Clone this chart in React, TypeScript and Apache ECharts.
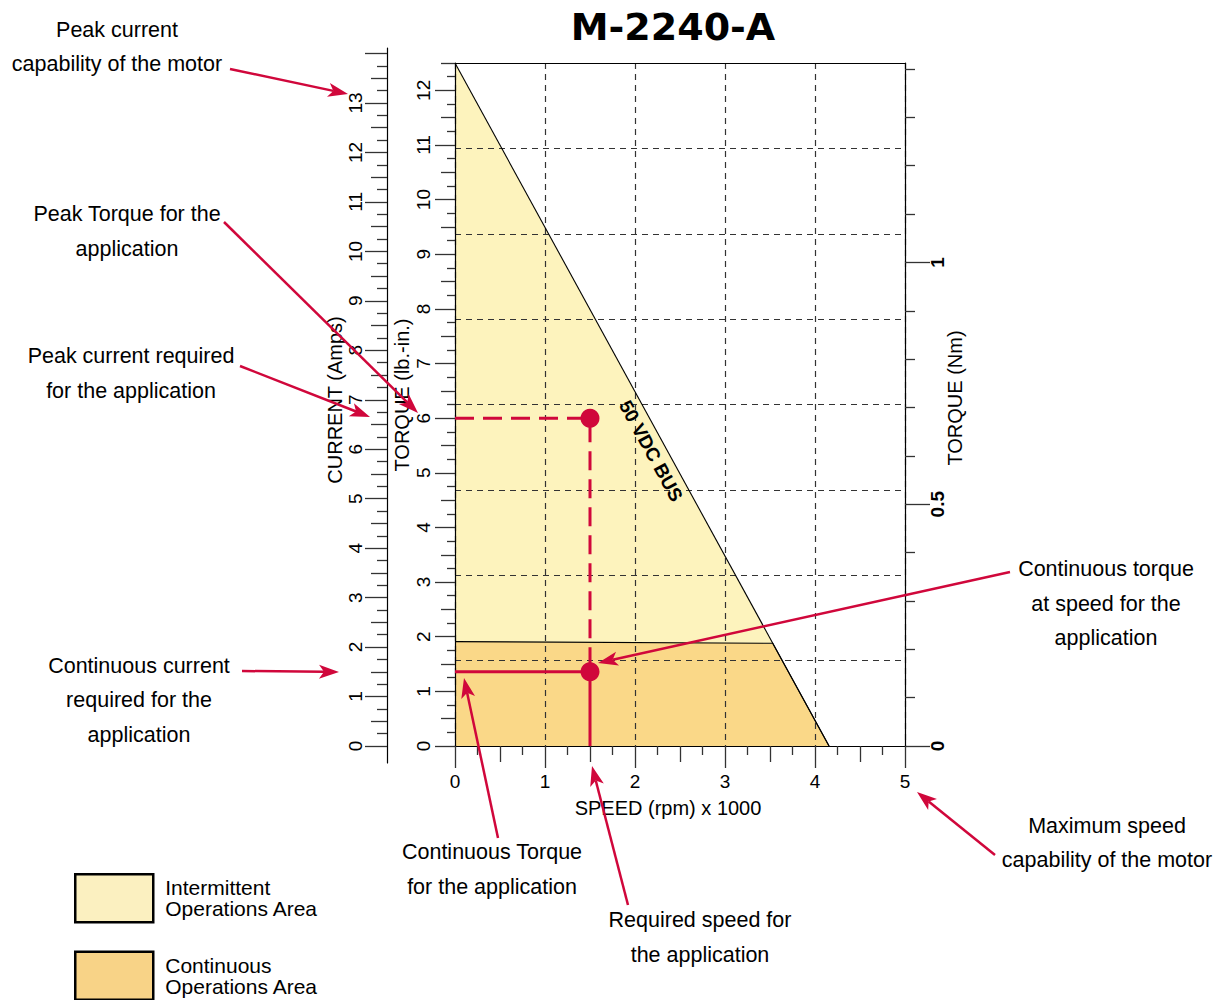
import React, { useEffect, useRef } from "react";
import * as echarts from "echarts";

// ---------- data ----------
const speedLabels = [0, 1, 2, 3, 4, 5]; // speed, rpm x 1000
const torqueLbInLabels = [0, 1, 2, 3, 4, 5, 6, 7, 8, 9, 10, 11, 12];
const currentLabels = [0, 1, 2, 3, 4, 5, 6, 7, 8, 9, 10, 11, 12, 13];
const torqueNmLabels = [0, 0.5, 1];

// [speed (krpm), torque (lb-in)]
const peakTorqueCurve = [
  [0, 12.5],
  [4.156, 0],
];
const continuousTorqueCurve = [
  [0, 1.91],
  [3.53, 1.88],
  [4.156, 0],
];
const applicationPeakGuide = [
  [0, 6],
  [1.5, 6],
  [1.5, 1.36],
];
const applicationContinuousGuide = [
  [0, 1.36],
  [1.5, 1.36],
  [1.5, 0],
];
const applicationPoints = [
  [1.5, 6],
  [1.5, 1.36],
];

const SPEED_MAX = 5;
const TORQUE_MAX = 12.5;
const LBIN_PER_NM = 8.8507;
const NM_MAX = TORQUE_MAX / LBIN_PER_NM;
const CURRENT_MIN = -0.344;
const CURRENT_MAX = 14.112;
const CURRENT_TICK_MAX = 14;
const GRID_DIVISIONS = 8;

// ---------- styles ----------
const FONT = "Liberation Sans";
const RED = "#d0073b";
const INTERMITTENT = "#fdf3bd";
const CONTINUOUS = "#fad888";
const TICK = { color: "#333", width: 1.3 };
const AXIS_LINE = { color: "#000", width: 1.2 };
const GRID_LINE = { color: "#333", width: 1.2, type: [6, 5] };

function steps(from: number, to: number, step: number) {
  const out: number[] = [];
  const n = Math.round((to - from) / step);
  for (let i = 0; i <= n; i++) out.push(Math.round((from + i * step) * 10000) / 10000);
  return out;
}
const isMult = (v: number, m: number) => Math.abs(v / m - Math.round(v / m)) < 1e-6;

const speedHalfTicks = steps(0, SPEED_MAX, 0.5).filter((v) => !isMult(v, 1));
const speedQuarterTicks = steps(0, SPEED_MAX, 0.25).filter((v) => !isMult(v, 0.5));
const torqueHalfTicks = steps(0, TORQUE_MAX, 0.5).filter((v) => !isMult(v, 1));
const torqueQuarterTicks = steps(0, TORQUE_MAX, 0.25).filter((v) => !isMult(v, 0.5));
const currentIntTicks = steps(0, CURRENT_TICK_MAX, 1);
const currentHalfTicks = steps(0, CURRENT_TICK_MAX, 0.5).filter((v) => !isMult(v, 1));
const currentQuarterTicks = steps(0, CURRENT_TICK_MAX, 0.25).filter((v) => !isMult(v, 0.5));
const nmMinorTicks = steps(0, 1.4, 0.1).filter((v) => !isMult(v, 0.5));

const labelStyle = { fontSize: 19, fontFamily: FONT, color: "#000" };

function tickOnly(base: any, values: number[], length: number) {
  return {
    ...base,
    axisLine: { show: false, onZero: false },
    axisTick: { show: true, customValues: values, length, lineStyle: TICK },
    axisLabel: { show: false },
    splitLine: { show: false },
  };
}

function text(x: number, y: number, t: string, extra: any = {}, rotation = 0) {
  return {
    type: "text",
    x,
    y,
    rotation,
    z: 100,
    style: {
      text: t,
      fill: "#000",
      fontSize: 21.5,
      fontFamily: FONT,
      lineHeight: 34.5,
      textAlign: "center",
      textVerticalAlign: "middle",
      ...extra,
    },
  };
}

function arrow(x1: number, y1: number, x2: number, y2: number) {
  const dx = x2 - x1;
  const dy = y2 - y1;
  const len = Math.hypot(dx, dy);
  const ux = dx / len;
  const uy = dy / len;
  const nx = -uy;
  const ny = ux;
  const L = 20;
  const W = 7;
  const notch = 5;
  const bx = x2 - ux * L;
  const by = y2 - uy * L;
  const mx = x2 - ux * (L - notch);
  const my = y2 - uy * (L - notch);
  return [
    { type: "line", z: 100, shape: { x1, y1, x2: mx, y2: my }, style: { stroke: RED, lineWidth: 2.5 } },
    {
      type: "polygon",
      z: 100,
      shape: {
        points: [
          [x2, y2],
          [bx + nx * W, by + ny * W],
          [mx, my],
          [bx - nx * W, by - ny * W],
        ],
      },
      style: { fill: RED },
    },
  ];
}

export default function App() {
  const ref = useRef<HTMLDivElement>(null);

  useEffect(() => {
    if (!ref.current) return;
    const chart = echarts.init(ref.current, null, { renderer: "svg" });

    const xBase = { type: "value", gridIndex: 0, min: 0, max: SPEED_MAX, position: "bottom", z: 3 };
    const yBase = { type: "value", gridIndex: 0, min: 0, max: TORQUE_MAX, position: "left", z: 3 };
    const nmBase = { type: "value", gridIndex: 0, min: 0, max: NM_MAX, position: "right", z: 3 };
    const curBase = { type: "value", gridIndex: 1, min: CURRENT_MIN, max: CURRENT_MAX, position: "left", z: 3 };

    const option: any = {
      animation: false,
      backgroundColor: "#fff",
      grid: [
        { left: 455, top: 63, width: 450, height: 683, containLabel: false, outerBoundsMode: "none" },
        { left: 387, top: 48, width: 10, bottom: 237, containLabel: false, outerBoundsMode: "none" },
      ],
      legend: {
        orient: "vertical",
        left: 74,
        top: 873,
        width: 300,
        height: 300,
        padding: 0,
        itemWidth: 78,
        itemHeight: 48,
        itemGap: 27,
        icon: "rect",
        selectedMode: false,
        textStyle: { fontSize: 21, lineHeight: 21, fontFamily: FONT, color: "#000", padding: [0, 0, 0, 7] },
        data: [
          {
            name: "Intermittent\nOperations Area",
            itemStyle: { color: "#fbf0c0", borderColor: "#000", borderWidth: 2.5 },
          },
          {
            name: "Continuous\nOperations Area",
            itemStyle: { color: "#f8d387", borderColor: "#000", borderWidth: 2.5 },
          },
        ],
      },
      xAxis: [
        {
          ...xBase,
          axisLine: { show: true, onZero: false, lineStyle: AXIS_LINE },
          axisTick: { show: true, customValues: speedLabels, length: 22, lineStyle: TICK },
          axisLabel: { show: true, customValues: speedLabels, margin: 26, ...labelStyle },
          splitLine: { show: false },
        },
        tickOnly(xBase, speedHalfTicks, 16),
        tickOnly(xBase, speedQuarterTicks, 9),
        {
          ...xBase,
          position: "top",
          axisLine: { show: true, onZero: false, lineStyle: AXIS_LINE },
          axisTick: { show: false },
          axisLabel: { show: false },
          splitLine: { show: false },
        },
        {
          ...xBase,
          interval: 1,
          axisLine: { show: false, onZero: false },
          axisTick: { show: false },
          axisLabel: { show: false },
          splitLine: { show: true, lineStyle: GRID_LINE },
        },
        { type: "value", gridIndex: 1, show: false, min: 0, max: 1, splitLine: { show: false } },
      ],
      yAxis: [
        {
          ...yBase,
          axisLine: { show: true, onZero: false, lineStyle: AXIS_LINE },
          axisTick: { show: true, customValues: torqueLbInLabels, length: 20, lineStyle: TICK },
          axisLabel: { show: true, customValues: torqueLbInLabels, rotate: 90, margin: 22, ...labelStyle },
          splitLine: { show: false },
        },
        tickOnly(yBase, torqueHalfTicks, 14),
        tickOnly(yBase, torqueQuarterTicks, 8),
        {
          ...yBase,
          interval: TORQUE_MAX / GRID_DIVISIONS,
          axisLine: { show: false, onZero: false },
          axisTick: { show: false },
          axisLabel: { show: false },
          splitLine: { show: true, lineStyle: GRID_LINE },
        },
        {
          ...nmBase,
          axisLine: { show: true, onZero: false, lineStyle: AXIS_LINE },
          axisTick: { show: true, customValues: torqueNmLabels, length: 25, lineStyle: TICK },
          axisLabel: {
            show: true,
            customValues: torqueNmLabels,
            rotate: 90,
            margin: 23,
            ...labelStyle,
            fontWeight: "bold",
          },
          splitLine: { show: false },
        },
        tickOnly(nmBase, nmMinorTicks, 10),
        {
          ...curBase,
          axisLine: { show: true, onZero: false, lineStyle: AXIS_LINE },
          axisTick: { show: true, customValues: currentIntTicks, length: 22, lineStyle: TICK },
          axisLabel: { show: true, customValues: currentLabels, rotate: 90, margin: 22, ...labelStyle },
          splitLine: { show: false },
        },
        tickOnly(curBase, currentHalfTicks, 16),
        tickOnly(curBase, currentQuarterTicks, 10),
      ],
      series: [
        {
          name: "Intermittent\nOperations Area",
          type: "line",
          data: peakTorqueCurve,
          symbol: "none",
          silent: true,
          lineStyle: { width: 0, color: INTERMITTENT },
          itemStyle: { color: INTERMITTENT },
          areaStyle: { color: INTERMITTENT, opacity: 1 },
          z: 1,
        },
        {
          name: "Continuous\nOperations Area",
          type: "line",
          data: continuousTorqueCurve,
          symbol: "none",
          silent: true,
          lineStyle: { width: 0, color: CONTINUOUS },
          itemStyle: { color: CONTINUOUS },
          areaStyle: { color: CONTINUOUS, opacity: 1 },
          z: 1.5,
        },
        {
          name: "50 VDC BUS",
          type: "line",
          data: peakTorqueCurve,
          symbol: "none",
          silent: true,
          lineStyle: { color: "#000", width: 1.1 },
          z: 4,
        },
        {
          name: "Continuous limit",
          type: "line",
          data: continuousTorqueCurve,
          symbol: "none",
          silent: true,
          lineStyle: { color: "#000", width: 1.1 },
          z: 4,
        },
        {
          name: "Application peak",
          type: "line",
          data: applicationPeakGuide,
          symbol: "none",
          silent: true,
          lineStyle: { color: RED, width: 3, type: [19, 9] },
          z: 5,
        },
        {
          name: "Application continuous",
          type: "line",
          data: applicationContinuousGuide,
          symbol: "none",
          silent: true,
          lineStyle: { color: RED, width: 3 },
          z: 5,
        },
        {
          name: "Application points",
          type: "scatter",
          data: applicationPoints,
          symbolSize: 19,
          silent: true,
          itemStyle: { color: RED, opacity: 1 },
          z: 6,
        },
      ],
      graphic: {
        elements: [
          text(673, 27, "M-2240-A", { fontSize: 38, fontWeight: "bold", fontFamily: "DejaVu Sans" }),
          text(335, 400, "CURRENT (Amps)", { fontSize: 20 }, Math.PI / 2),
          text(402, 395, "TORQUE (lb.-in.)", { fontSize: 20 }, Math.PI / 2),
          text(955, 398, "TORQUE (Nm)", { fontSize: 20 }, Math.PI / 2),
          text(668, 808, "SPEED (rpm) x 1000", { fontSize: 20 }),
          text(651, 451, "50 VDC BUS", { fontSize: 19, fontWeight: "bold" }, -Math.atan2(683, 374)),
          text(117, 47, "Peak current\ncapability of the motor"),
          text(127, 231.5, "Peak Torque for the\napplication"),
          text(131, 373.5, "Peak current required\nfor the application"),
          text(139, 700, "Continuous current\nrequired for the\napplication"),
          text(1106, 603.5, "Continuous torque\nat speed for the\napplication"),
          text(492, 869.5, "Continuous Torque\nfor the application"),
          text(700, 937.5, "Required speed for\nthe application"),
          text(1107, 843, "Maximum speed\ncapability of the motor"),
          ...arrow(230, 69, 348, 94),
          ...arrow(224, 222, 418, 413),
          ...arrow(240, 366, 370, 417),
          ...arrow(242, 671, 339, 672),
          ...arrow(1010, 572, 598, 663),
          ...arrow(498, 838, 464, 678),
          ...arrow(628, 905, 592, 766),
          ...arrow(995, 855, 917, 792),
        ],
      },
    };

    chart.setOption(option);
    return () => chart.dispose();
  }, []);

  return (
    <div
      ref={ref}
      style={{ position: "absolute", left: 0, top: 0, width: 1227, height: 1000, background: "#fff" }}
    />
  );
}
